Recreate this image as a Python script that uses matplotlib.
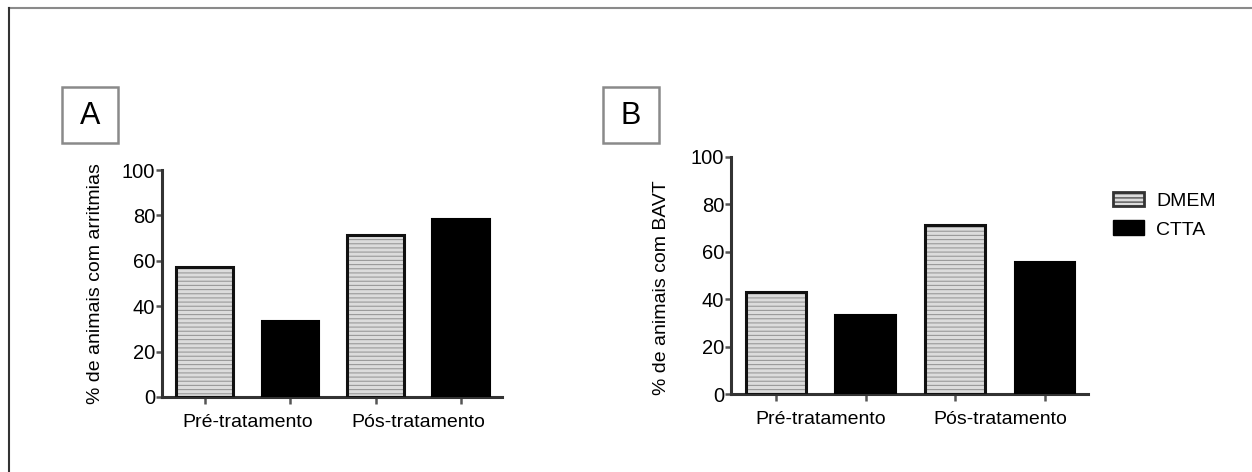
import numpy as np
import matplotlib
matplotlib.use('Agg')
import matplotlib.pyplot as plt
from matplotlib.patches import Rectangle, Patch
from matplotlib.lines import Line2D

plt.rcParams['font.family'] = ['Liberation Sans Narrow', 'Liberation Sans', 'DejaVu Sans']
plt.rcParams['hatch.linewidth'] = 0.8

groups = ['Pré-tratamento', 'Pós-tratamento']
series = ['DMEM', 'CTTA']
arritmias_dmem = [57.1, 71.4]
arritmias_ctta = [33.3, 78.6]
bavt_dmem = [42.9, 71.4]
bavt_ctta = [33.3, 55.6]
yticks = [0, 20, 40, 60, 80, 100]

W, H = 1252, 472
fig = plt.figure(figsize=(W / 100, H / 100), dpi=100)

# outer frame (top and left edges visible)
fig.add_artist(Line2D([9 / W, 1], [1 - 8 / H, 1 - 8 / H], color='#8a8a8a', lw=1.5))
fig.add_artist(Line2D([9 / W, 9 / W], [0, 1 - 8 / H], color='#333333', lw=1.5))


def panel(rect, dmem, ctta, ylabel, ylab_y):
    ax = fig.add_axes(rect)
    pos = np.arange(4)
    vals = [dmem[0], ctta[0], dmem[1], ctta[1]]
    w = 0.67
    for i, v in enumerate(vals):
        if i % 2 == 0:
            ax.bar(pos[i], v, w, color='#dcdcdc', edgecolor='#9a9a9a', hatch='----', lw=0, zorder=2)
            ax.bar(pos[i], v, w, fill=False, edgecolor='#111111', lw=2.2, zorder=3)
        else:
            ax.bar(pos[i], v, w, color='black', edgecolor='black', lw=1.5, zorder=3)
    ax.set_xlim(-0.5, 3.48)
    ax.set_ylim(0, 100)
    for s in ['top', 'right']:
        ax.spines[s].set_visible(False)
    for s in ['left', 'bottom']:
        ax.spines[s].set_linewidth(2.2)
        ax.spines[s].set_color('#333333')
    ax.set_yticks(yticks)
    ax.tick_params(axis='y', length=4, width=1.8, color='#555555', labelsize=14.5, pad=1)
    ax.set_xticks(pos)
    ax.set_xticklabels([''] * 4)
    ax.tick_params(axis='x', which='major', length=5, width=1.8, color='#555555')
    ax.set_xticks([0.5, 2.5], minor=True)
    ax.set_xticklabels(groups, minor=True, fontsize=14)
    ax.tick_params(axis='x', which='minor', length=0, pad=12)
    ax.set_ylabel(ylabel, fontsize=14)
    ax.yaxis.set_label_coords(-0.172, ylab_y)
    return ax


panel([162 / W, 75 / H, 340 / W, 227 / H], arritmias_dmem, arritmias_ctta,
      '% de animais com arritmias', 0.5)
panel([731 / W, 78 / H, 357 / W, 237 / H], bavt_dmem, bavt_ctta,
      '% de animais com BAVT', 0.45)

# panel letters
for letter, x0, y0 in [('A', 62, 87), ('B', 603, 87)]:
    fig.add_artist(Rectangle((x0 / W, 1 - (y0 + 56) / H), 56 / W, 56 / H,
                             fill=False, edgecolor='#8a8a8a', lw=1.8))
    fig.text((x0 + 28) / W, 1 - (y0 + 29) / H, letter, fontsize=22,
             family=['Liberation Sans', 'DejaVu Sans'], ha='center', va='center')

handles = [Patch(facecolor='#dcdcdc', edgecolor='#333333', hatch='----', lw=2),
           Patch(facecolor='black', edgecolor='black')]
fig.legend(handles, series, loc='upper left', bbox_to_anchor=(1095 / W, 1 - 174 / H),
           frameon=False, fontsize=14, handlelength=1.6, handleheight=0.8,
           labelspacing=0.55, handletextpad=0.65)

fig.savefig('out.png', dpi=100)
